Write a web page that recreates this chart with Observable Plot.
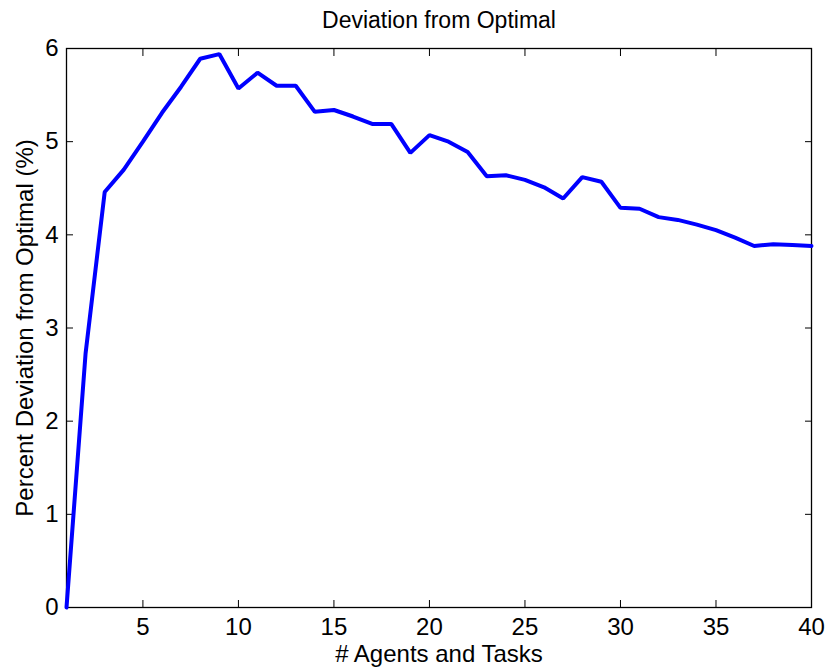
<!DOCTYPE html>
<html><head><meta charset="utf-8">
<script src="https://cdn.jsdelivr.net/npm/d3@7"></script>
<script src="https://cdn.jsdelivr.net/npm/@observablehq/plot@0.6"></script>
<style>body{margin:0;background:#fff;font-family:"Liberation Sans",Arial,sans-serif}</style>
</head><body><div id="chart"></div>
<script>
const agents = [1,2,3,4,5,6,7,8,9,10,11,12,13,14,15,16,17,18,19,20,21,22,23,24,25,26,27,28,29,30,31,32,33,34,35,36,37,38,39,40];
const deviation = [0,2.73,4.46,4.70,5.00,5.31,5.59,5.89,5.94,5.57,5.74,5.60,5.60,5.32,5.34,5.27,5.19,5.19,4.88,5.07,5.00,4.89,4.63,4.64,4.59,4.51,4.39,4.62,4.57,4.29,4.28,4.19,4.16,4.11,4.05,3.97,3.88,3.90,3.89,3.88];
const xTicks = [5,10,15,20,25,30,35,40];
const yTicks = [0,1,2,3,4,5,6];
const data = agents.map((a,i)=>({a, d: deviation[i]}));

const chart = Plot.plot({
  width: 830, height: 672,
  marginTop: 48, marginBottom: 65, marginLeft: 66, marginRight: 19,
  style: {fontFamily: '"Liberation Sans", Arial, sans-serif', fontSize: "24px", color: "#000", background: "#fff"},
  x: {domain: [1, 40]},
  y: {domain: [0, 6]},
  marks: [
    Plot.frame({stroke: "#000", strokeWidth: 1.3}),
    Plot.axisX(xTicks, {anchor: "bottom", tickSize: -7, tickPadding: 17, fontSize: 24, label: null, tickFormat: d3.format("d")}),
    Plot.axisX(xTicks, {anchor: "top", tickSize: -7, tickFormat: () => "", label: null}),
    Plot.axisY(yTicks, {anchor: "left", tickSize: -7, tickPadding: 15, fontSize: 24, label: null, tickFormat: d3.format("d")}),
    Plot.axisY(yTicks, {anchor: "right", tickSize: -7, tickFormat: () => "", label: null}),
    Plot.line(data, {x: "a", y: "d", stroke: "#0000ff", strokeWidth: 4, strokeLinejoin: "miter"}),
    Plot.text(["Deviation from Optimal"], {frameAnchor: "top", dy: -37, fontSize: 23}),
    Plot.text(["# Agents and Tasks"], {frameAnchor: "bottom", dy: 54, fontSize: 24}),
    Plot.text(["Percent Deviation from Optimal (%)"], {frameAnchor: "left", dx: -41, rotate: -90, textAnchor: "middle", fontSize: 24})
  ]
});
document.getElementById("chart").appendChild(chart);
</script></body></html>
